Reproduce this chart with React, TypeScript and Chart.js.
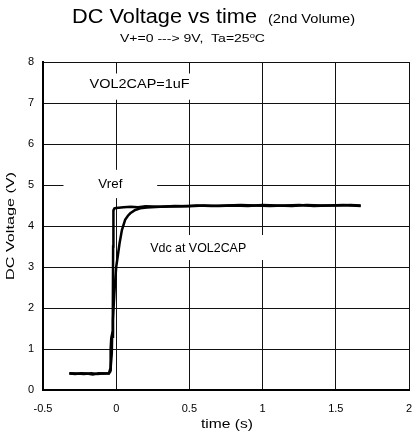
import React, { useEffect, useRef } from "react";
import { Chart, registerables } from "chart.js";

Chart.register(...registerables);

// ---- data ----
const vrefTime = [
  -0.32, -0.28, -0.24, -0.2, -0.16, -0.12, -0.08, -0.05, -0.042, -0.038, -0.034,
  -0.026, -0.023, -0.021, -0.019, -0.012, 0.0, 0.05, 0.1, 0.15, 0.2, 0.3, 0.4, 0.5,
  0.6, 0.7, 0.8, 0.9, 1.0, 1.1, 1.2, 1.3, 1.4, 1.5, 1.6, 1.67,
];
const vrefVolts = [
  0.4, 0.39, 0.41, 0.4, 0.38, 0.41, 0.4, 0.4, 0.5, 1.0, 1.25,
  1.4, 2.0, 3.5, 4.38, 4.43, 4.44, 4.46, 4.47, 4.46, 4.48, 4.47, 4.49, 4.48,
  4.5, 4.49, 4.5, 4.49, 4.51, 4.5, 4.49, 4.51, 4.5, 4.5, 4.51, 4.5,
];
const vdcTime = [
  -0.32, -0.27, -0.22, -0.17, -0.13, -0.09, -0.05, -0.04, -0.03, -0.028, -0.022,
  -0.018, -0.01, 0.0, 0.012, 0.023, 0.039, 0.061, 0.08, 0.096, 0.13, 0.164, 0.21,
  0.3, 0.45, 0.55, 0.65, 0.75, 0.85, 0.95, 1.05, 1.15, 1.25, 1.35, 1.45, 1.55, 1.67,
];
const vdcVolts = [
  0.41, 0.4, 0.39, 0.41, 0.39, 0.4, 0.41, 0.45, 0.9, 1.3, 1.7,
  2.0, 2.5, 3.0, 3.3, 3.58, 3.9, 4.15, 4.25, 4.31, 4.39, 4.43, 4.45,
  4.47, 4.48, 4.5, 4.49, 4.5, 4.51, 4.5, 4.49, 4.5, 4.51, 4.49, 4.5, 4.51, 4.49,
];
const xTicks = [-0.5, 0, 0.5, 1, 1.5, 2];
const yTicks = [0, 1, 2, 3, 4, 5, 6, 7, 8];

const titleMain = "DC Voltage vs time";
const titleSuffix = "(2nd Volume)";
const subtitleLeft = "V+=0 ---> 9V,  Ta=25";
const subtitleDeg = "o";
const subtitleUnit = "C";
const xTitle = "time (s)";
const yTitle = "DC Voltage (V)";

// annotation labels: [text, centerX, centerY, boxX0, boxX1, boxY0, boxY1]
const notes: [string, number, number, number, number, number, number][] = [
  ["VOL2CAP=1uF", 0.16, 7.45, -0.2, 0.6, 7.08, 7.72],
  ["Vref", -0.04, 5.0, -0.36, 0.28, 4.68, 5.37],
  ["Vdc at VOL2CAP", 0.56, 3.46, 0.2, 1.05, 3.17, 3.78],
];
// [fontSize, width in px] for each note
const noteFonts: [number, number][] = [
  [13, 100],
  [12.5, 24],
  [13.5, 96],
];

const FONT = "'Liberation Sans', Arial, sans-serif";

// draws text horizontally stretched to a given width
function stretched(
  ctx: CanvasRenderingContext2D,
  text: string,
  cx: number,
  y: number,
  size: number,
  width: number,
  baseline: CanvasTextBaseline = "alphabetic",
  rotate = false
) {
  ctx.save();
  ctx.font = `${size}px ${FONT}`;
  const w = ctx.measureText(text).width;
  const sx = width / w;
  ctx.translate(cx, y);
  if (rotate) ctx.rotate(-Math.PI / 2);
  ctx.scale(sx, 1);
  ctx.textAlign = "center";
  ctx.textBaseline = baseline;
  ctx.fillStyle = "#000";
  ctx.fillText(text, 0, 0);
  ctx.restore();
}

const notesPlugin = {
  id: "notes",
  beforeDatasetsDraw(chart: any) {
    const ctx = chart.ctx;
    const xs = chart.scales.x;
    const ys = chart.scales.y;
    ctx.save();
    notes.forEach(([text, cx, cy, bx0, bx1, by0, by1], i) => {
      const x0 = xs.getPixelForValue(bx0);
      const x1 = xs.getPixelForValue(bx1);
      const y0 = ys.getPixelForValue(by1);
      const y1 = ys.getPixelForValue(by0);
      ctx.fillStyle = "#fff";
      ctx.fillRect(x0, y0, x1 - x0, y1 - y0);
      const [fs, fw] = noteFonts[i];
      stretched(ctx, text, xs.getPixelForValue(cx), ys.getPixelForValue(cy), fs, fw, "middle");
    });
    ctx.restore();
  },
};

const titlePlugin = {
  id: "titles",
  afterDraw(chart: any) {
    const ctx = chart.ctx;
    const area = chart.chartArea;
    ctx.save();
    // main title
    stretched(ctx, titleMain, 72 + 185 / 2, 22.5, 19.5, 185);
    stretched(ctx, titleSuffix, 268 + 87 / 2, 22.5, 12, 87);

    // subtitle with raised small "o"
    const big = 10.5;
    const small = 7;
    ctx.font = `${big}px ${FONT}`;
    const s1 = ctx.measureText(subtitleLeft).width;
    const s3 = ctx.measureText(subtitleUnit).width;
    ctx.font = `${small}px ${FONT}`;
    const s2 = ctx.measureText(subtitleDeg).width;
    const total = s1 + s2 + s3;
    const target = 145;
    const sx = target / total;
    ctx.translate(120, 41.5);
    ctx.scale(sx, 1);
    ctx.fillStyle = "#000";
    ctx.textAlign = "left";
    ctx.textBaseline = "alphabetic";
    ctx.font = `${big}px ${FONT}`;
    ctx.fillText(subtitleLeft, 0, 0);
    ctx.font = `${small}px ${FONT}`;
    ctx.fillText(subtitleDeg, s1, -4);
    ctx.font = `${big}px ${FONT}`;
    ctx.fillText(subtitleUnit, s1 + s2, 0);
    ctx.restore();

    // axis titles
    const midX = (area.left + area.right) / 2;
    const midY = (area.top + area.bottom) / 2;
    stretched(ctx, xTitle, midX + 1, 425, 12, 52, "middle");
    stretched(ctx, yTitle, 11, midY, 11.5, 108, "middle", true);
  },
};

export default function App() {
  const ref = useRef<HTMLCanvasElement | null>(null);
  useEffect(() => {
    if (!ref.current) return;
    const toPts = (t: number[], v: number[]) => t.map((x, i) => ({ x, y: v[i] }));
    const chart = new Chart(ref.current, {
      type: "line",
      data: {
        datasets: [
          {
            label: "Vref",
            data: toPts(vrefTime, vrefVolts),
            borderColor: "#000",
            borderWidth: 2.5,
            pointRadius: 0,
            tension: 0,
            fill: false,
          },
          {
            label: "Vdc at VOL2CAP",
            data: toPts(vdcTime, vdcVolts),
            borderColor: "#000",
            borderWidth: 2.5,
            pointRadius: 0,
            tension: 0,
            fill: false,
          },
        ],
      },
      options: {
        animation: false,
        responsive: false,
        devicePixelRatio: 1,
        layout: { padding: { top: 62, right: 4, left: 0, bottom: 0 } },
        plugins: { legend: { display: false }, tooltip: { enabled: false }, title: { display: false } },
        scales: {
          x: {
            type: "linear",
            min: -0.5,
            max: 2,
            afterBuildTicks: (s: any) => {
              s.ticks = xTicks.map((v) => ({ value: v }));
            },
            afterFit: (s: any) => {
              s.height = 54;
              s.paddingRight = 0;
              s.paddingLeft = 0;
            },
            ticks: {
              color: "#000",
              padding: 12,
              font: { family: FONT, size: 11 },
              callback: (v: any) => String(v),
            },
            grid: { color: "#111", lineWidth: 1, drawTicks: false },
            border: { color: "#000", width: 2 },
          },
          y: {
            type: "linear",
            min: 0,
            max: 8,
            afterBuildTicks: (s: any) => {
              s.ticks = yTicks.map((v) => ({ value: v }));
            },
            afterFit: (s: any) => {
              s.width = 43;
              s.paddingTop = 0;
              s.paddingBottom = 0;
            },
            ticks: {
              color: "#000",
              padding: 9,
              font: { family: FONT, size: 11 },
              callback: (v: any) => String(v),
            },
            grid: { color: "#111", lineWidth: 1, drawTicks: false },
            border: { color: "#000", width: 2 },
          },
        },
      },
      plugins: [notesPlugin, titlePlugin],
    });
    return () => chart.destroy();
  }, []);
  return (
    <div style={{ position: "absolute", left: 0, top: 0, width: 413, height: 444, background: "#fff" }}>
      <canvas ref={ref} width={413} height={444} style={{ display: "block" }} />
    </div>
  );
}
